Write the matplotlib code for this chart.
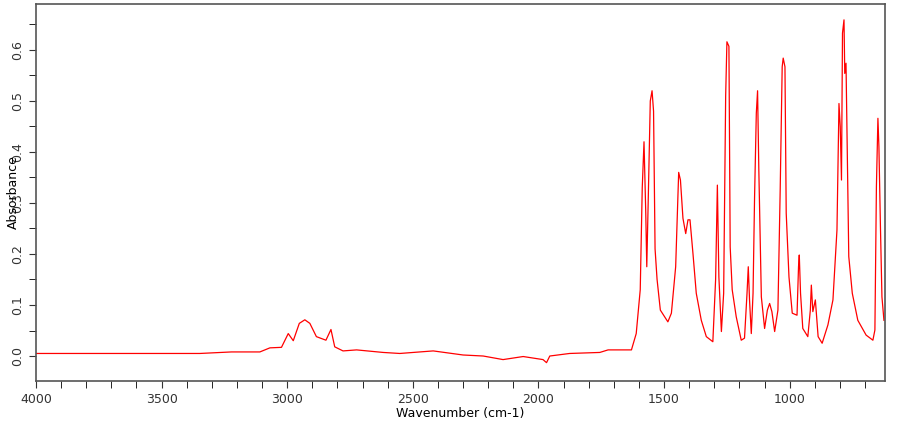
import matplotlib
matplotlib.use("Agg")
import matplotlib.pyplot as plt
from matplotlib.ticker import MultipleLocator

wavenumber = [4000, 3348, 3222, 3109, 3069, 3023, 2996, 2976, 2952, 2930, 2910, 2884, 2846, 2826, 2811,
              2778, 2724, 2618, 2552, 2419, 2300, 2220, 2141, 2061, 1982, 1968, 1955, 1876, 1756, 1723,
              1677, 1630, 1611, 1595, 1587, 1580, 1573, 1569, 1563, 1555, 1548, 1542, 1536, 1528, 1515,
              1485, 1471, 1454, 1442, 1435, 1425, 1414, 1405, 1397, 1385, 1372, 1352, 1332, 1306, 1295,
              1288, 1282, 1272, 1263, 1255, 1250, 1242, 1237, 1229, 1213, 1193, 1180, 1170, 1165, 1160,
              1153, 1146, 1140, 1133, 1128, 1123, 1113, 1100, 1089, 1080, 1071, 1060, 1047, 1038, 1030,
              1026, 1019, 1014, 1003, 990, 971, 965, 962, 957, 948, 928, 918, 914, 908, 898, 887, 871,
              848, 828, 812, 804, 799, 794, 790, 784, 781, 776, 771, 765, 751, 729, 696, 669, 661, 655,
              649, 645, 639, 633, 625]
absorbance = [0.005, 0.005, 0.008, 0.008, 0.016, 0.017, 0.044, 0.030, 0.064, 0.071, 0.064, 0.038, 0.031, 0.052, 0.018,
              0.010, 0.012, 0.007, 0.005, 0.010, 0.002, 0.000, -0.007, -0.001, -0.007, -0.013, 0.000, 0.005, 0.007, 0.012,
              0.012, 0.012, 0.044, 0.130, 0.330, 0.420, 0.280, 0.175, 0.310, 0.500, 0.520, 0.480, 0.210, 0.150, 0.090,
              0.067, 0.084, 0.175, 0.360, 0.345, 0.270, 0.240, 0.267, 0.267, 0.200, 0.123, 0.070, 0.038, 0.028, 0.150,
              0.335, 0.155, 0.048, 0.123, 0.510, 0.616, 0.607, 0.214, 0.130, 0.077, 0.031, 0.035, 0.123, 0.175, 0.110,
              0.044, 0.123, 0.310, 0.476, 0.520, 0.365, 0.116, 0.054, 0.090, 0.103, 0.087, 0.048, 0.090, 0.325, 0.567,
              0.584, 0.567, 0.280, 0.155, 0.084, 0.080, 0.175, 0.198, 0.123, 0.054, 0.038, 0.090, 0.139, 0.087, 0.110, 0.038, 0.025,
              0.061, 0.110, 0.247, 0.495, 0.450, 0.345, 0.633, 0.659, 0.554, 0.574, 0.404, 0.195, 0.123, 0.070, 0.041, 0.031, 0.051, 0.332,
              0.466, 0.410, 0.254, 0.116, 0.070]

fig = plt.figure(figsize=(9, 4.25), dpi=100)
ax = fig.add_axes([0.04, 0.1035, 0.943, 0.887])
ax.plot(wavenumber, absorbance, color="red", linewidth=0.9)
ax.set_xlim(4000, 622)
ax.set_ylim(-0.049, 0.69)
ax.xaxis.set_major_locator(MultipleLocator(500))
ax.xaxis.set_minor_locator(MultipleLocator(100))
ax.yaxis.set_major_locator(MultipleLocator(0.1))
ax.yaxis.set_minor_locator(MultipleLocator(0.05))
ax.yaxis.set_major_formatter(matplotlib.ticker.FormatStrFormatter("%.1f"))
for lab in ax.get_yticklabels():
    lab.set_rotation(90)
    lab.set_va("center")
ax.tick_params(labelsize=9, colors="#333333", length=5)
ax.tick_params(which="minor", length=5)
for s in ax.spines.values():
    s.set_color("#555555")
    s.set_linewidth(1.2)
ax.set_xlabel("Wavenumber (cm-1)", fontsize=9, labelpad=1)
ax.set_ylabel("Absorbance", fontsize=9, labelpad=-6)
fig.savefig("out.png", dpi=100)
